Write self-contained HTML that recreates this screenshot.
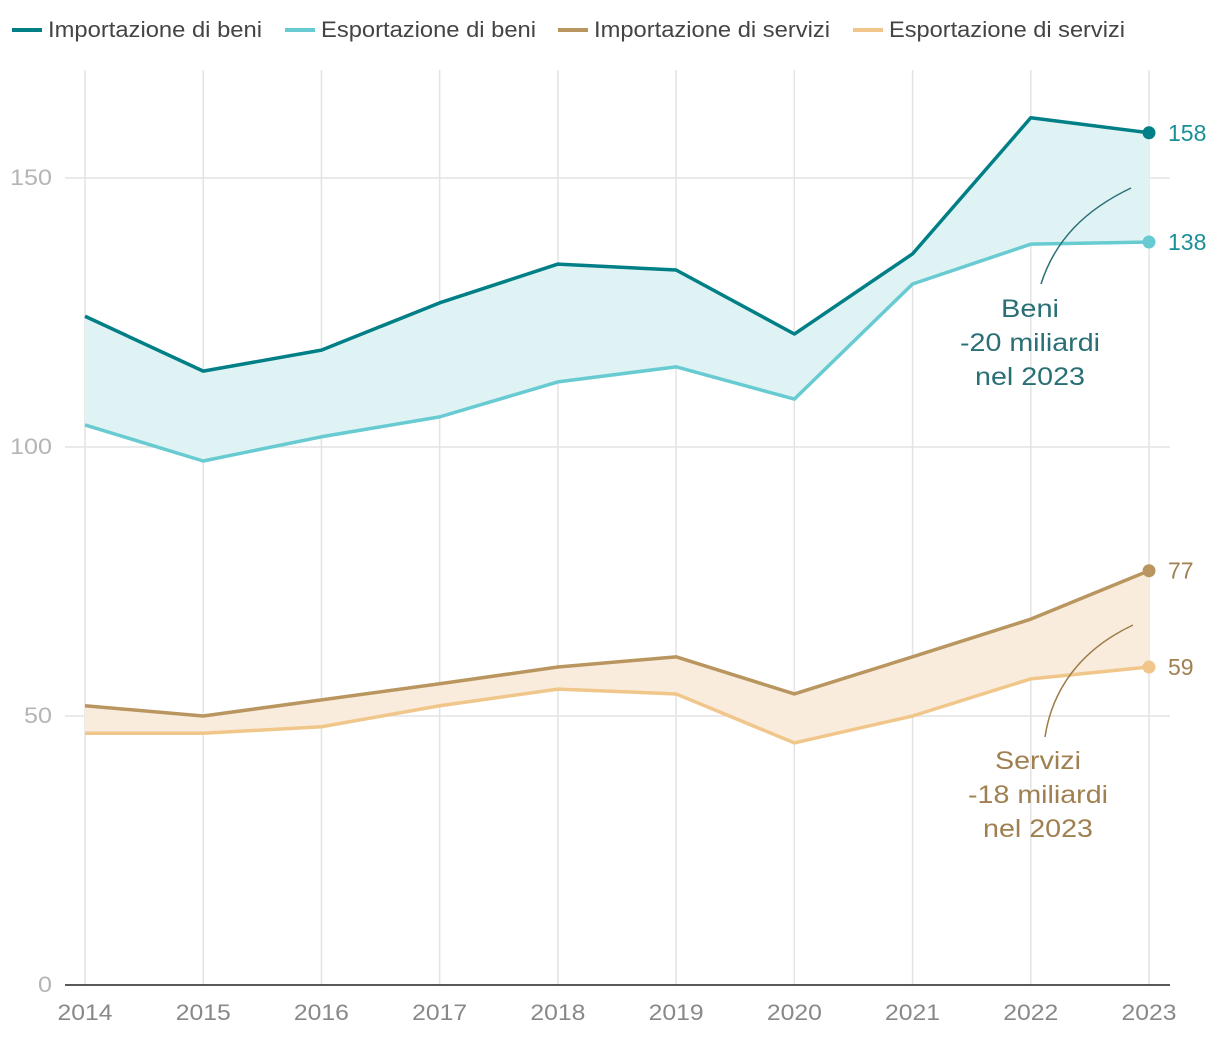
<!DOCTYPE html>
<html><head><meta charset="utf-8"><style>
body{margin:0;background:#fff;font-family:"Liberation Sans",sans-serif;}
svg text{font-family:"Liberation Sans",sans-serif;}
</style></head><body>
<svg id="chart" width="1220" height="1038" viewBox="0 0 1220 1038">
<g id="legend" font-size="22" fill="#444">
 <g><line x1="12" y1="30" x2="42" y2="30" stroke="#007f86" stroke-width="4"/><text x="48" y="37" textLength="214" lengthAdjust="spacingAndGlyphs">Importazione di beni</text></g>
 <g><line x1="285" y1="30" x2="315" y2="30" stroke="#68cbd2" stroke-width="4"/><text x="321" y="37" textLength="215" lengthAdjust="spacingAndGlyphs">Esportazione di beni</text></g>
 <g><line x1="558" y1="30" x2="588" y2="30" stroke="#b9965f" stroke-width="4"/><text x="594" y="37" textLength="236" lengthAdjust="spacingAndGlyphs">Importazione di servizi</text></g>
 <g><line x1="853" y1="30" x2="883" y2="30" stroke="#f0c68a" stroke-width="4"/><text x="889" y="37" textLength="236" lengthAdjust="spacingAndGlyphs">Esportazione di servizi</text></g>
</g>
<g id="grid"></g><g id="areas"></g><g id="lines"></g><g id="labels"></g>
<g>
 <path d="M1041,284 C1055,240 1085,210 1131,188" fill="none" stroke="#2a6f75" stroke-width="1.5"/>
 <text x="1030" y="317" text-anchor="middle" font-size="25" fill="#2a6f75" textLength="58" lengthAdjust="spacingAndGlyphs">Beni</text>
 <text x="1030" y="351" text-anchor="middle" font-size="25" fill="#2a6f75" textLength="140" lengthAdjust="spacingAndGlyphs">-20 miliardi</text>
 <text x="1030" y="385" text-anchor="middle" font-size="25" fill="#2a6f75" textLength="110" lengthAdjust="spacingAndGlyphs">nel 2023</text>
</g>
<g>
 <path d="M1045,737 C1052,690 1080,650 1133,625" fill="none" stroke="#9c7d4a" stroke-width="1.5"/>
 <text x="1038" y="769" text-anchor="middle" font-size="25" fill="#a08050" textLength="86" lengthAdjust="spacingAndGlyphs">Servizi</text>
 <text x="1038" y="803" text-anchor="middle" font-size="25" fill="#a08050" textLength="140" lengthAdjust="spacingAndGlyphs">-18 miliardi</text>
 <text x="1038" y="837" text-anchor="middle" font-size="25" fill="#a08050" textLength="110" lengthAdjust="spacingAndGlyphs">nel 2023</text>
</g>
</svg>
<script>
const years=[2014,2015,2016,2017,2018,2019,2020,2021,2022,2023];
const importBeni=[124.3,114.1,118,126.8,134,132.9,121,135.9,161.2,158.4];
const exportBeni=[104.1,97.4,101.9,105.6,112.1,114.9,108.9,130.3,137.7,138.1];
const importServizi=[51.9,50,53,56,59.1,61,54.1,61,68,77];
const exportServizi=[46.8,46.8,48,51.9,55,54.1,45,50,56.9,59.1];
const yTicks=[0,50,100,150];
const endLabels=["158","138","77","59"];
const NS="http://www.w3.org/2000/svg";
const x=i=>85+i*(1149-85)/(years.length-1);
const y=v=>985-v*5.38;
function mk(tag,attrs,parent){const e=document.createElementNS(NS,tag);for(const k in attrs)e.setAttribute(k,attrs[k]);document.getElementById(parent).appendChild(e);return e;}
yTicks.forEach(t=>{
 if(t>0){const g=mk('line',{x1:65,x2:1170,y1:y(t),y2:y(t),stroke:'#e3e3e3','stroke-width':1.5},'grid');
 
 }
 const tx=mk('text',{x:52,y:y(t)+7,'text-anchor':'end','font-size':22,fill:'#b5b5b5'},'grid');tx.textContent=t;
 tx.setAttribute('textLength',String(t).length*14);
 tx.setAttribute('lengthAdjust','spacingAndGlyphs');
 
 
});
years.forEach((yr,i)=>{
 const g=mk('line',{x1:x(i),x2:x(i),y1:70,y2:985,stroke:'#e3e3e3','stroke-width':1.5},'grid');
 
 
 const tx=mk('text',{x:x(i),y:1020,'text-anchor':'middle','font-size':22,fill:'#888',textLength:55,lengthAdjust:'spacingAndGlyphs'},'grid');tx.textContent=yr;
 
 
});
const ax=mk('line',{x1:65,x2:1170,y1:985,y2:985,stroke:'#222','stroke-width':1.5},'grid');


function band(a,b,fill,name){
 let d='M'+a.map((v,i)=>x(i)+','+y(v)).join(' L')+' L'+b.map((v,i)=>x(i)+','+y(v)).reverse().join(' L')+' Z';
 const p=mk('path',{d:d,fill:fill},'areas');
 
 
}
band(importBeni,exportBeni,'#e0f3f4','gap-area-beni');
band(importServizi,exportServizi,'#faecdc','gap-area-servizi');
const series=[[importBeni,'#007f86','line-import-beni','#1a8f95'],[exportBeni,'#68cbd2','line-export-beni','#1a8f95'],[importServizi,'#b9965f','line-import-servizi','#a08050'],[exportServizi,'#f0c68a','line-export-servizi','#a08050']];
series.forEach((s,k)=>{
 const p=mk('polyline',{points:s[0].map((v,i)=>x(i)+','+y(v)).join(' '),fill:'none',stroke:s[1],'stroke-width':3.5,'stroke-linejoin':'round'},'lines');
 
 
 const n=s[0].length-1;
 const c=mk('circle',{cx:x(n),cy:y(s[0][n]),r:6.5,fill:s[1]},'lines');
 
 
 const t=mk('text',{x:x(n)+19,y:y(s[0][n])+8,'font-size':23,fill:s[3]},'labels');t.textContent=endLabels[k];
 
 
});
</script>
</body></html>
